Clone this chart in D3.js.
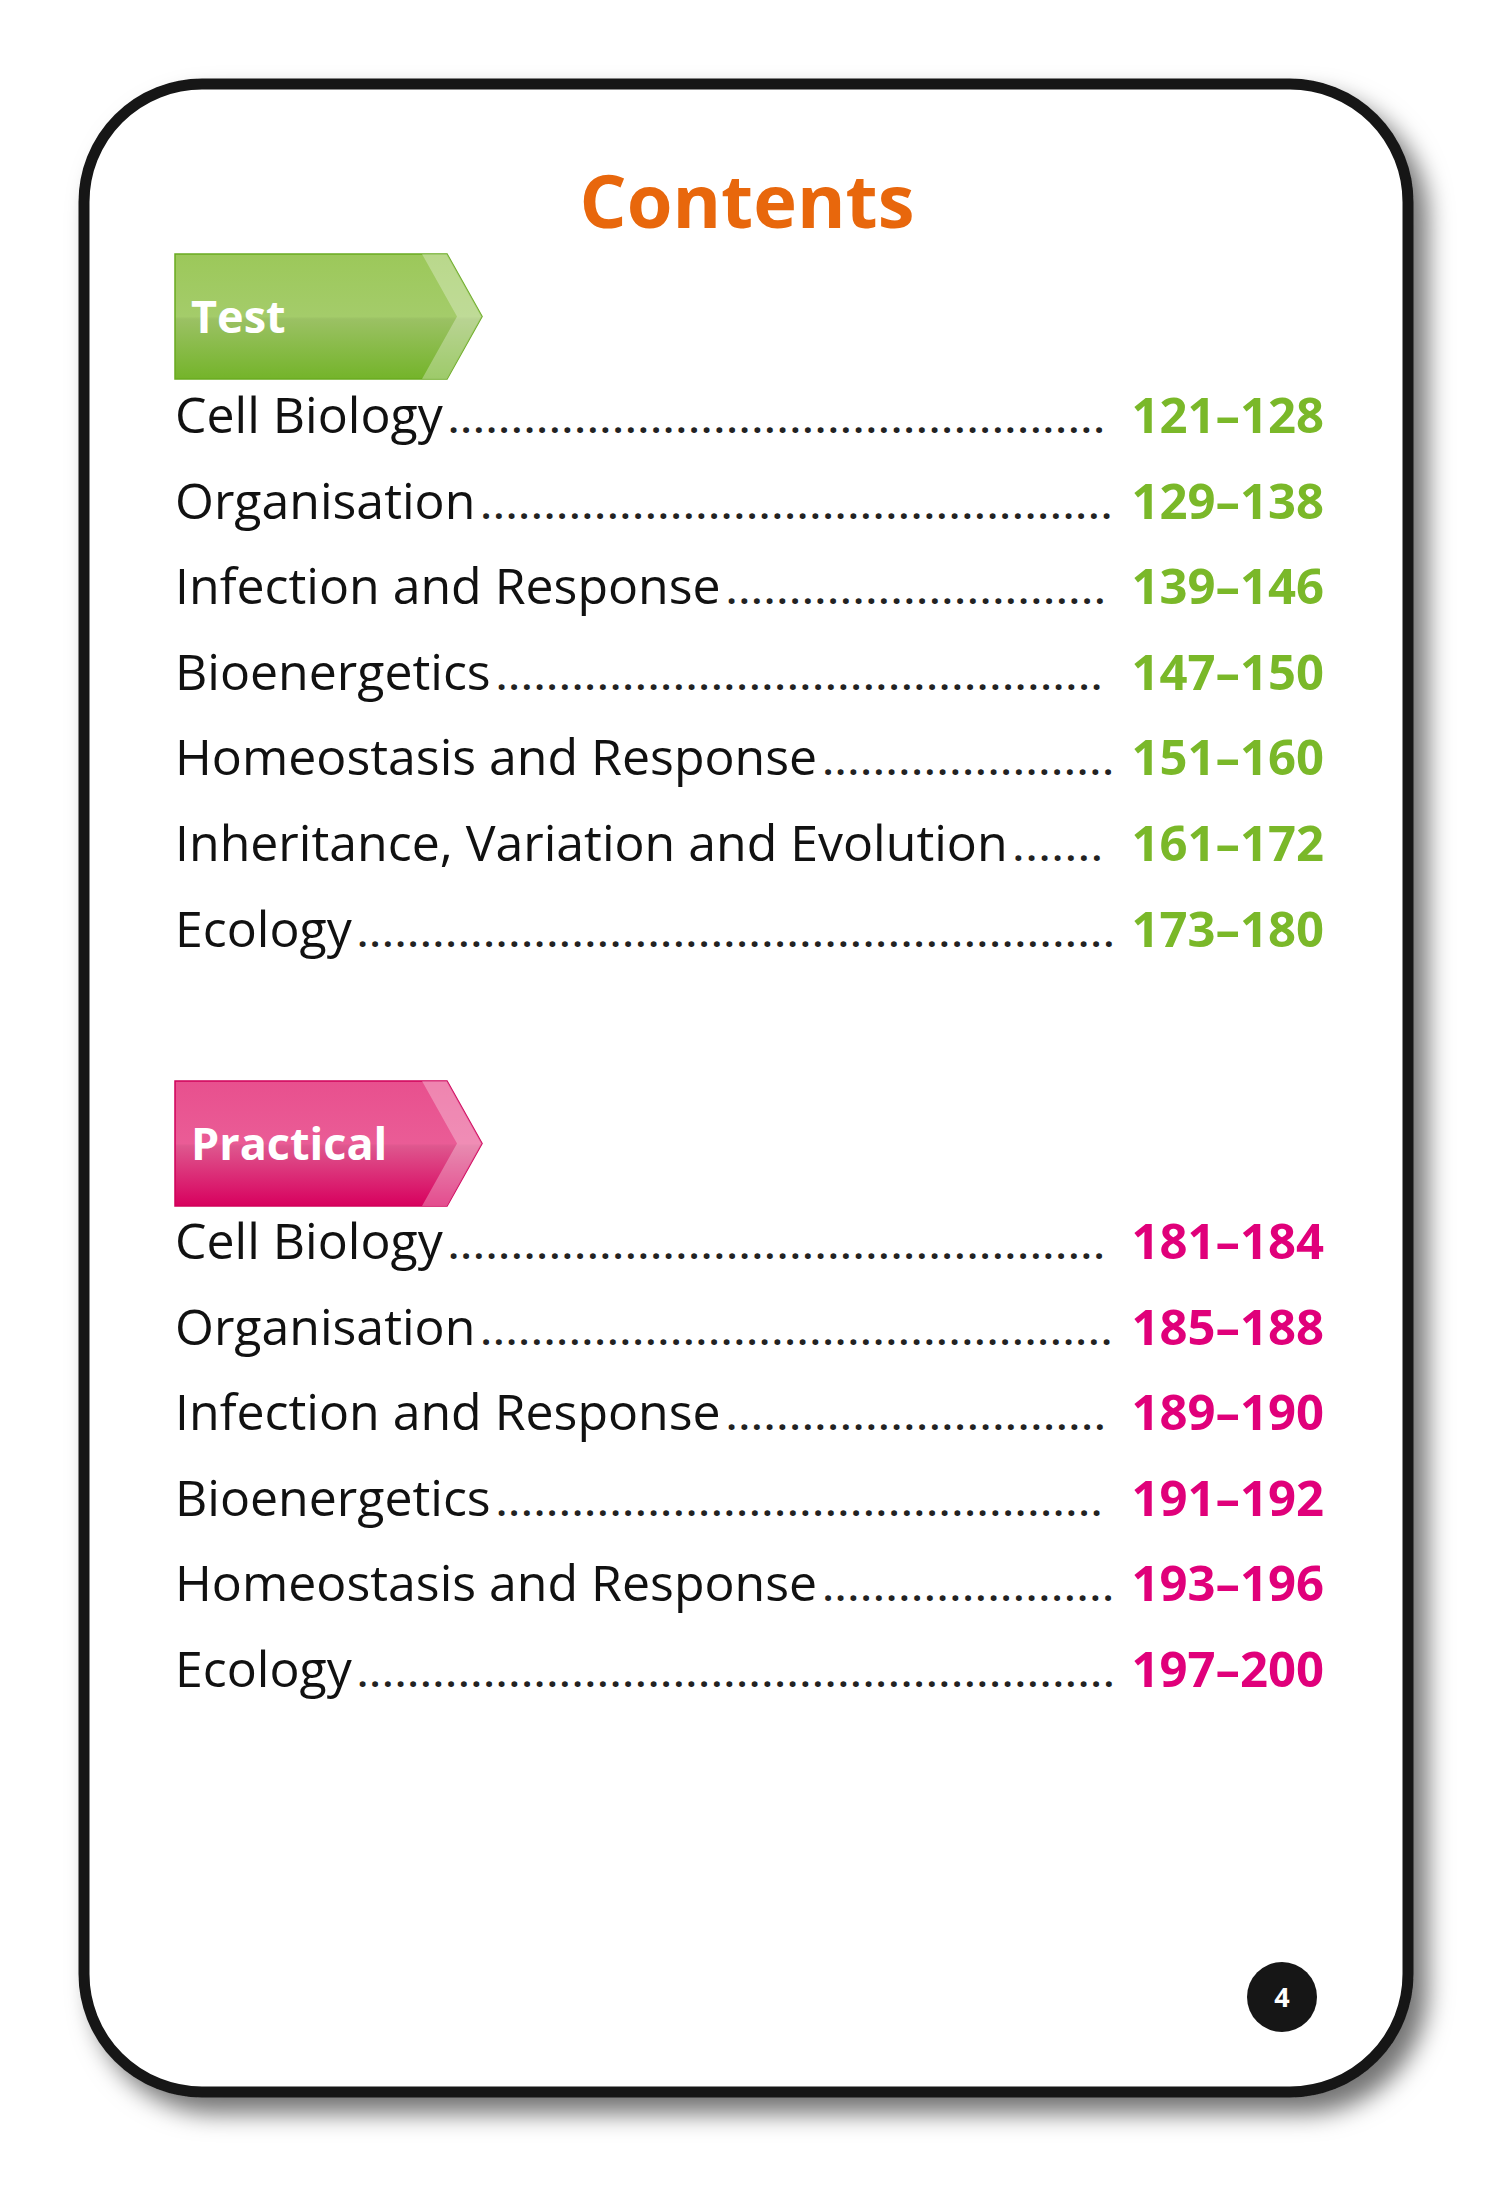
<!DOCTYPE html>
<html><head><meta charset="utf-8">
<script src="https://cdn.jsdelivr.net/npm/d3@7"></script>
<style>body{margin:0;background:#fff}</style>
</head><body>
<script>
// contents data
const testTopics = ["Cell Biology","Organisation","Infection and Response","Bioenergetics","Homeostasis and Response","Inheritance, Variation and Evolution","Ecology"];
const testPages = ["121–128","129–138","139–146","147–150","151–160","161–172","173–180"];
const pracTopics = ["Cell Biology","Organisation","Infection and Response","Bioenergetics","Homeostasis and Response","Ecology"];
const pracPages = ["181–184","185–188","189–190","191–192","193–196","197–200"];

const W = 1500, H = 2187;
const svg = d3.select("body").append("svg").attr("width", W).attr("height", H);
const defs = svg.append("defs");
const font = "'Open Sans', 'Noto Sans', sans-serif";

const sh = defs.append("filter").attr("id","shadow").attr("x","-10%").attr("y","-10%").attr("width","130%").attr("height","130%");
sh.append("feDropShadow").attr("dx",14).attr("dy",16).attr("stdDeviation",12).attr("flood-color","#000").attr("flood-opacity",0.55);

function grad(id, top, mid, bot) {
    g = defs.append("linearGradient").attr("id", id).attr("x1",0).attr("y1",0).attr("x2",0).attr("y2",1);
    g.append("stop").attr("offset","0").attr("stop-color", top);
    g.append("stop").attr("offset","0.5").attr("stop-color", mid);
    g.append("stop").attr("offset","0.52").attr("stop-color", d3.color(mid).darker(0.15));
    g.append("stop").attr("offset","1").attr("stop-color", bot);
}
grad("gGreen", "#9cc85a", "#a4cc6a", "#74b42a");
grad("gPink", "#e8508e", "#ea5c96", "#d8005e");

// card
svg.append("rect").attr("x",84).attr("y",84).attr("width",1324).attr("height",2008)
    .attr("rx",118).attr("fill","#fff").attr("stroke","#161616").attr("stroke-width",11)
    .attr("filter","url(#shadow)");

svg.append("text").attr("x",747).attr("y",228).attr("text-anchor","middle")
    .attr("font-family",font).attr("font-weight",700).attr("font-size",74)
    .attr("fill","#e8670c").text("Contents");

const x0 = 175, numRight = 1324, numLeft = 1128;
const rowY = d3.scaleLinear().domain([0,1]).range([0,85.6]);

function banner(y, label, gid, edge) {
    const bx = 175, bw = 272, bh = 125, tip = 35;
    const g = svg.append("g").attr("transform",`translate(${bx},${y})`);
    g.append("path").attr("d",`M0,0H${bw}L${bw+tip},${bh/2}L${bw},${bh}H0Z`)
        .attr("fill",`url(#${gid})`).attr("stroke",edge).attr("stroke-width",1.5);
    g.append("path").attr("d",`M${bw-25},0H${bw}L${bw+tip},${bh/2}L${bw},${bh}H${bw-25}L${bw+tip-25},${bh/2}Z`)
        .attr("fill","#fff").attr("opacity",0.3);
    g.append("text").attr("x",16).attr("y",bh/2+16).attr("font-family",font)
        .attr("font-weight",700).attr("font-size",45).attr("fill","#fff").text(label);
}

function rows(y0, topics, pages, col) {
    const g = svg.append("g").attr("transform",`translate(0,${y0})`);
    topics.forEach((t,i) => {
        const y = rowY(i);
        const tx = g.append("text").attr("x",x0).attr("y",y).attr("font-family",font)
            .attr("font-size",50).attr("fill","#111").text(t);
        const end = x0 + tx.node().getComputedTextLength() + 6;
        const dw = 12.6;
        const n = Math.floor((numLeft - 14 - end) / dw);
        g.append("text").attr("x", end).attr("y",y).attr("font-family",font)
            .attr("font-size",34).attr("font-weight",700).attr("fill","#222")
            .text(".".repeat(Math.max(n,0)))
            .attr("textLength", Math.max(n,1)*dw).attr("lengthAdjust","spacing");
        g.append("text").attr("x",numRight).attr("y",y).attr("text-anchor","end")
            .attr("font-family",font).attr("font-weight",700).attr("font-size",49)
            .attr("fill",col).text(pages[i]);
    });
}

banner(254, "Test", "gGreen", "#6aaa20");
rows(433, testTopics, testPages, "#7ab829");
banner(1081, "Practical", "gPink", "#d0005a");
rows(1259, pracTopics, pracPages, "#e0007a");

svg.append("circle").attr("cx",1282).attr("cy",1997).attr("r",35).attr("fill","#161616");
svg.append("text").attr("x",1282).attr("y",1997).attr("dy","0.36em").attr("text-anchor","middle")
    .attr("font-family",font).attr("font-weight",700).attr("font-size",27).attr("fill","#fff").text("4");
</script>
</body></html>
